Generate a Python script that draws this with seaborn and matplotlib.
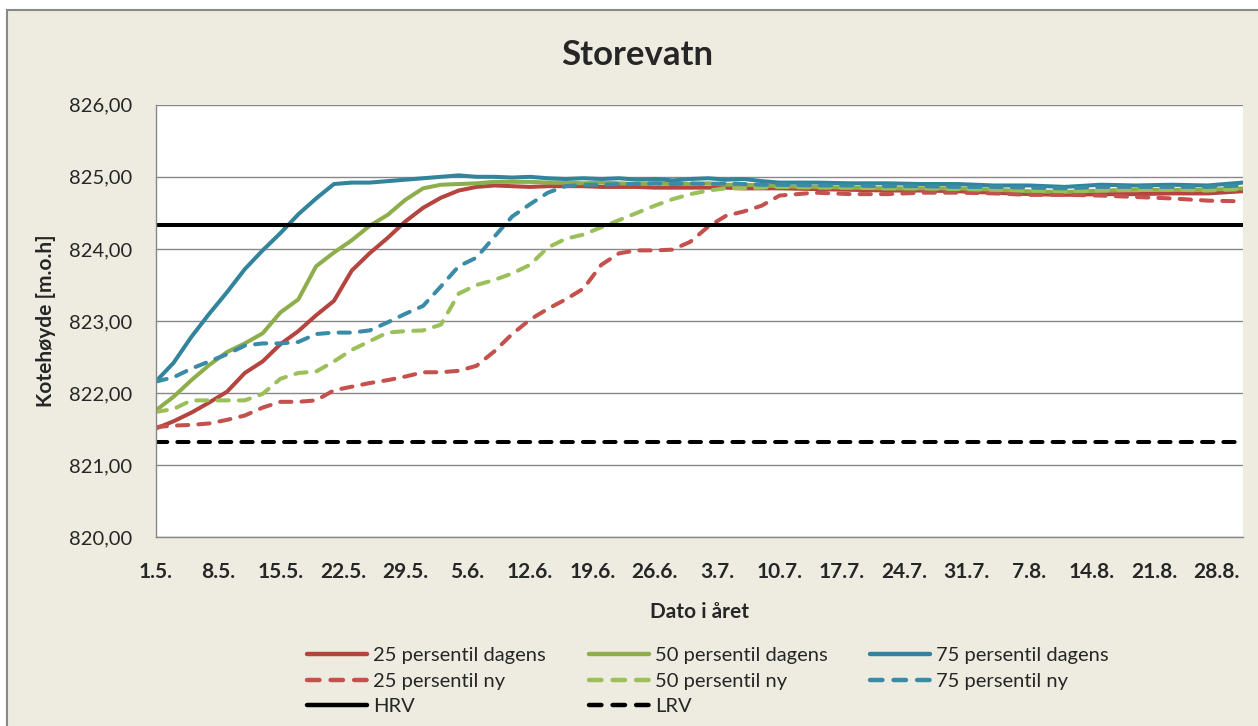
import numpy as np
import pandas as pd
import seaborn as sns
import matplotlib.pyplot as plt
from matplotlib.patches import Rectangle

# days after 1 May
days = [0, 2, 4, 6, 8, 10, 12, 14, 16, 18, 20, 22, 24, 26, 28, 30, 32, 34,
        36, 38, 40, 42, 44, 46, 48, 50, 52, 54, 56, 58, 60, 62, 64, 66, 68, 70,
        74, 78, 82, 86, 90, 94, 98, 102, 106, 110, 114, 118, 122]

p25_dagens = [821.51, 821.61, 821.73, 821.87, 822.02, 822.28, 822.44, 822.68, 822.86,
              823.08, 823.28, 823.70, 823.94, 824.15, 824.38, 824.57, 824.71, 824.81,
              824.86, 824.88, 824.87, 824.86, 824.87, 824.87, 824.87, 824.86, 824.86,
              824.86, 824.85, 824.85, 824.85, 824.85, 824.85, 824.84, 824.84, 824.84,
              824.83, 824.82, 824.81, 824.81, 824.80, 824.78, 824.76, 824.75, 824.76,
              824.76, 824.77, 824.77, 824.80]
p50_dagens = [821.76, 821.95, 822.18, 822.39, 822.57, 822.69, 822.83, 823.12, 823.30,
              823.76, 823.95, 824.12, 824.32, 824.47, 824.68, 824.84, 824.89, 824.90,
              824.91, 824.93, 824.93, 824.93, 824.92, 824.92, 824.91, 824.92, 824.91,
              824.90, 824.91, 824.90, 824.90, 824.91, 824.89, 824.89, 824.88, 824.87,
              824.86, 824.85, 824.84, 824.84, 824.84, 824.82, 824.80, 824.79, 824.81,
              824.82, 824.82, 824.82, 824.84]
p75_dagens = [822.16, 822.42, 822.78, 823.10, 823.40, 823.72, 823.98, 824.22, 824.48,
              824.70, 824.90, 824.92, 824.92, 824.94, 824.96, 824.98, 825.00, 825.02,
              825.00, 825.00, 824.99, 825.00, 824.98, 824.97, 824.98, 824.97, 824.98,
              824.96, 824.97, 824.95, 824.97, 824.98, 824.96, 824.97, 824.94, 824.92,
              824.92, 824.91, 824.91, 824.90, 824.90, 824.88, 824.88, 824.86, 824.89,
              824.88, 824.89, 824.88, 824.92]
p25_ny = [821.53, 821.55, 821.56, 821.58, 821.63, 821.69, 821.80, 821.88, 821.88,
          821.90, 822.04, 822.09, 822.14, 822.18, 822.23, 822.29, 822.29, 822.31,
          822.38, 822.58, 822.82, 823.02, 823.17, 823.30, 823.45, 823.78, 823.94,
          823.98, 823.98, 823.99, 824.10, 824.31, 824.46, 824.52, 824.60, 824.74,
          824.78, 824.76, 824.76, 824.78, 824.78, 824.77, 824.75, 824.75, 824.74,
          824.72, 824.70, 824.67, 824.66]
p50_ny = [821.74, 821.78, 821.90, 821.90, 821.90, 821.90, 821.99, 822.20, 822.28,
          822.30, 822.44, 822.60, 822.72, 822.84, 822.86, 822.87, 822.95, 823.38,
          823.50, 823.57, 823.66, 823.78, 824.02, 824.14, 824.20, 824.30, 824.40,
          824.50, 824.60, 824.69, 824.76, 824.81, 824.84, 824.84, 824.85, 824.86,
          824.85, 824.85, 824.84, 824.84, 824.83, 824.82, 824.81, 824.80, 824.81,
          824.82, 824.82, 824.81, 824.83]
p75_ny = [822.16, 822.22, 822.34, 822.44, 822.54, 822.66, 822.69, 822.69, 822.71,
          822.82, 822.84, 822.84, 822.87, 822.98, 823.10, 823.21, 823.48, 823.76,
          823.88, 824.17, 824.45, 824.62, 824.78, 824.87, 824.89, 824.89, 824.90,
          824.90, 824.91, 824.90, 824.91, 824.90, 824.91, 824.90, 824.89, 824.89,
          824.88, 824.88, 824.87, 824.87, 824.86, 824.86, 824.85, 824.84, 824.86,
          824.86, 824.86, 824.86, 824.88]
hrv = 824.33
lrv = 821.32

tick_days = [0, 7, 14, 21, 28, 35, 42, 49, 56, 63, 70, 77, 84, 91, 98, 105, 112, 119]
tick_labels = ['1.5.', '8.5.', '15.5.', '22.5.', '29.5.', '5.6.', '12.6.', '19.6.', '26.6.',
               '3.7.', '10.7.', '17.7.', '24.7.', '31.7.', '7.8.', '14.8.', '21.8.', '28.8.']

series = {
    '25 persentil dagens': p25_dagens,
    '50 persentil dagens': p50_dagens,
    '75 persentil dagens': p75_dagens,
    '25 persentil ny': p25_ny,
    '50 persentil ny': p50_ny,
    '75 persentil ny': p75_ny,
}
frames = [pd.DataFrame({'day': days, 'kote': vals, 'serie': name}) for name, vals in series.items()]
frames.append(pd.DataFrame({'day': [days[0], days[-1]], 'kote': [hrv, hrv], 'serie': 'HRV'}))
frames.append(pd.DataFrame({'day': [days[0], days[-1]], 'kote': [lrv, lrv], 'serie': 'LRV'}))
df = pd.concat(frames, ignore_index=True)

palette = {
    '25 persentil dagens': '#B5443F', '50 persentil dagens': '#8DAE4B', '75 persentil dagens': '#31849B',
    '25 persentil ny': '#C4514D', '50 persentil ny': '#9BBF59', '75 persentil ny': '#3A8CA6',
    'HRV': 'black', 'LRV': 'black',
}
dash = (2.8, 2.5)
dashes = {
    '25 persentil dagens': '', '50 persentil dagens': '', '75 persentil dagens': '',
    '25 persentil ny': dash, '50 persentil ny': dash, '75 persentil ny': dash,
    'HRV': '', 'LRV': dash,
}

sns.set_style('white')
plt.rcParams['font.family'] = ['Lato', 'DejaVu Sans']

fig = plt.figure(figsize=(12.58, 7.26), dpi=100, facecolor='white')
fig.patches.append(Rectangle((7 / 1258, -0.05), 1.1, 1 - 10 / 726 + 0.05, transform=fig.transFigure,
                             facecolor='#EEECE1', edgecolor='#888888', linewidth=1.5, zorder=-5))
ax = fig.add_axes([155.7 / 1258, 1 - 537.4 / 726, (1243 - 155.7) / 1258, (537.4 - 104.7) / 726])
ax.set_facecolor('white')

sns.lineplot(data=df, x='day', y='kote', hue='serie', style='serie', palette=palette,
             dashes=dashes, estimator=None, sort=True, linewidth=2.9, ax=ax)
for line in ax.get_lines():
    line.set_dash_capstyle('round')
    line.set_solid_capstyle('round')

handles, labels = ax.get_legend_handles_labels()
hmap = dict(zip(labels, handles))
ax.get_legend().remove()
order = ['25 persentil dagens', '25 persentil ny', 'HRV',
         '50 persentil dagens', '50 persentil ny', 'LRV',
         '75 persentil dagens', '75 persentil ny']
for name in order:
    hmap[name].set_linewidth(3.2)
    hmap[name].set_dash_capstyle('round')
fig.legend([hmap[n] for n in order], order, loc='upper left',
           bbox_to_anchor=(307 / 1258, 1 - 647 / 726), ncol=3, frameon=False,
           fontsize=14.5, handlelength=3.0, handletextpad=0.3, columnspacing=2.1,
           labelspacing=0.42, borderpad=0, borderaxespad=0)

ax.set_xlim(0, 122)
ax.set_ylim(820, 826)
ax.set_yticks(range(820, 827))
ax.set_yticklabels([f'{v},00' for v in range(820, 827)])
ax.set_xticks(tick_days)
ax.set_xticklabels(tick_labels, fontweight='bold')
ax.tick_params(axis='x', direction='out', length=7, width=1, color='#888888', pad=11, labelsize=15)
ax.tick_params(axis='y', direction='out', length=9, width=1, color='#888888', pad=8, labelsize=14.5)
ax.grid(axis='y', color='#888888', linewidth=1)
ax.grid(axis='x', visible=False)
ax.set_axisbelow(True)
for side in ['top', 'right']:
    ax.spines[side].set_visible(False)
for side in ['left', 'bottom']:
    ax.spines[side].set_color('#888888')
    ax.spines[side].set_linewidth(1)

ax.set_xlabel('Dato i året', fontsize=15, fontweight='bold', labelpad=14)
ax.set_ylabel('Kotehøyde [m.o.h]', fontsize=15, fontweight='bold', labelpad=9)
fig.text(637 / 1258, 1 - 55 / 726, 'Storevatn', ha='center', va='center', fontsize=25, fontweight='bold')

plt.savefig('out.png', dpi=100, facecolor=fig.get_facecolor())
